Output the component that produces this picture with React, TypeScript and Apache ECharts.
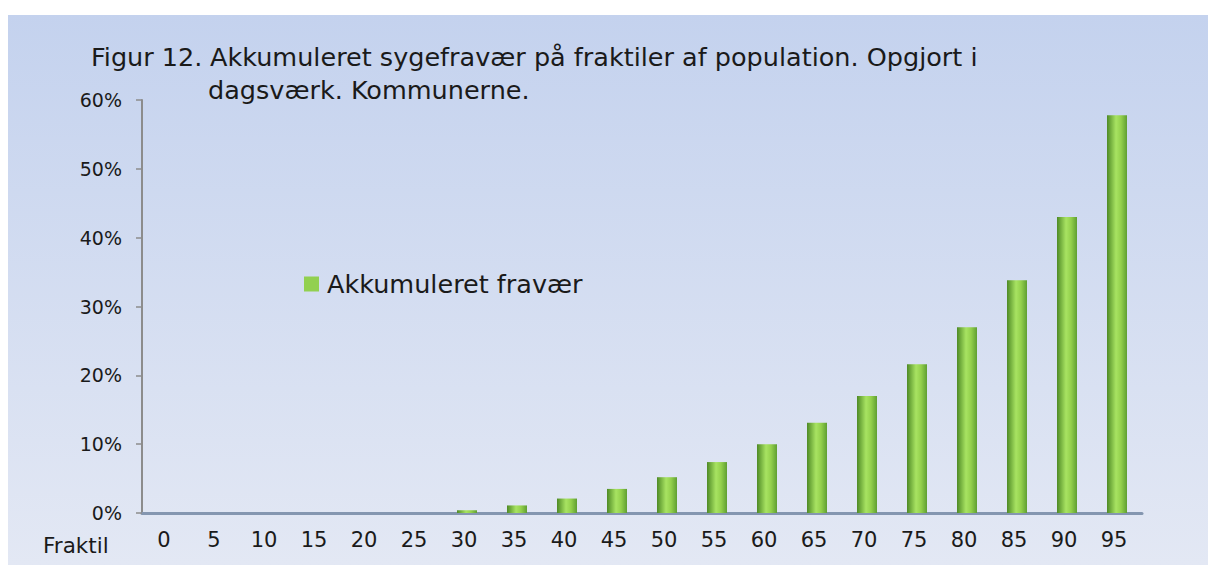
import React, { useEffect, useRef } from "react";
import * as echarts from "echarts";

const figureLabel = "Figur 12.";
const titleLine1 = "Akkumuleret sygefravær på fraktiler af population. Opgjort i";
const titleLine2 = "dagsværk. Kommunerne.";
const categories = ["0", "5", "10", "15", "20", "25", "30", "35", "40", "45", "50", "55", "60", "65", "70", "75", "80", "85", "90", "95"];
const accumulated = [0, 0, 0, 0, 0, 0, 0.4, 1.1, 2.1, 3.5, 5.2, 7.4, 10.0, 13.1, 17.0, 21.6, 27.0, 33.8, 43.0, 57.8];
const seriesName = "Akkumuleret fravær";
const xAxisName = "Fraktil";

export default function App() {
  const ref = useRef<HTMLDivElement>(null);
  useEffect(() => {
    if (!ref.current) return;
    const chart = echarts.init(ref.current, undefined, { renderer: "svg" });
    const font = "DejaVu Sans";
    const ink = "#1a1a1a";
    chart.setOption({
      animation: false,
      backgroundColor: new echarts.graphic.LinearGradient(0, 0, 0, 1, [
        { offset: 0, color: "#c4d2ee" },
        { offset: 1, color: "#e3e8f4" },
      ]),
      title: [
        {
          text: `{a|${figureLabel}}{b|${titleLine1}}`,
          left: 78,
          top: 24,
          textStyle: {
            fontWeight: "normal",
            rich: {
              a: { fontFamily: font, fontSize: 25.5, fontWeight: "normal", color: ink, width: 119 },
              b: { fontFamily: font, fontSize: 25.5, fontWeight: "normal", color: ink },
            },
          },
        },
        { text: titleLine2, left: 195, top: 57, textStyle: { fontFamily: font, fontSize: 25.5, fontWeight: "normal", color: ink } },
      ],
      legend: {
        left: 291,
        top: 251,
        itemWidth: 15,
        itemHeight: 15,
        icon: "rect",
        data: [{ name: seriesName, itemStyle: { color: "#92d050" } }],
        textStyle: { fontFamily: font, fontSize: 25.5, color: ink, padding: [0, 0, 0, 3] },
      },
      grid: { left: 134, right: 66, top: 85, bottom: 52 },
      graphic: [
        { type: "text", left: 35, top: 519, style: { text: xAxisName, fontFamily: font, fontSize: 21.5, fill: ink } },
      ],
      xAxis: {
        type: "category",
        data: categories,
        axisLine: { lineStyle: { color: "#8496b0", width: 3 } },
        axisTick: { show: false },
        axisLabel: { fontFamily: font, fontSize: 21, color: ink, margin: 16, padding: [0, 6, 0, 0] },
      },
      yAxis: {
        type: "value",
        min: 0,
        max: 60,
        interval: 10,
        axisLine: { show: true, lineStyle: { color: "#8c8c8c", width: 2 } },
        axisTick: { show: true, length: 6, lineStyle: { color: "#8c8c8c", width: 1.5 } },
        splitLine: { show: false },
        axisLabel: { fontFamily: font, fontSize: 19, color: ink, margin: 20, padding: [5, 0, 0, 0], formatter: "{value}%" },
      },
      series: [
        {
          name: seriesName,
          type: "bar",
          data: accumulated,
          barWidth: 20,
          itemStyle: {
            color: new echarts.graphic.LinearGradient(0, 0, 1, 0, [
              { offset: 0, color: "#4e8a25" },
              { offset: 0.45, color: "#a8e362" },
              { offset: 0.7, color: "#93d04c" },
              { offset: 1, color: "#5f9f32" },
            ]),
          },
        },
      ],
    });
    return () => chart.dispose();
  }, []);
  return <div ref={ref} style={{ position: "absolute", left: 8, top: 15, width: 1200, height: 550 }} />;
}
